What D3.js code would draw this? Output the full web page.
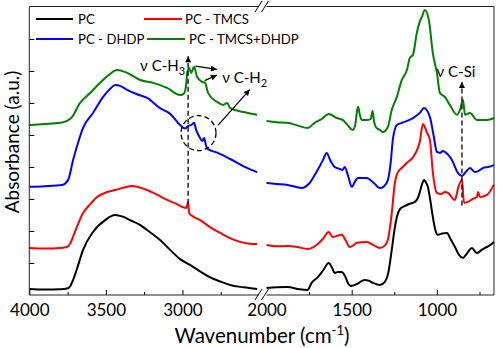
<!DOCTYPE html>
<html>
<head>
<meta charset="utf-8">
<script src="https://cdn.jsdelivr.net/npm/d3@7"></script>
<style>
html,body{margin:0;padding:0;background:#fff;}
svg{display:block;font-family:Lato, "Open Sans", sans-serif;}
</style>
</head>
<body>
<svg id="chart" width="498" height="348"></svg>
<script>
// ---- data: [wavenumber (cm-1), absorbance (a.u., offset)] ----
const seriesNames = ["PC", "PC - TMCS", "PC - DHDP", "PC - TMCS+DHDP"];
const seriesColors = ["#000000", "#ff0000", "#0000ff", "#008000"];

const pcLeft = [[4000,0.19],[3900,0.17],[3800,0.18],[3754,0.2],[3730,0.3],[3714,0.47],[3680,0.95],[3649,1.41],[3584,1.97],[3505,2.34],[3440,2.5],[3390,2.45],[3342,2.34],[3280,2.2],[3231,2.03],[3146,1.72],[3080,1.41],[3015,1.12],[2950,0.94],[2880,0.72],[2819,0.55],[2750,0.42],[2688,0.31],[2600,0.24],[2512,0.19]];
const tmcsLeft = [[4000,1.47],[3900,1.45],[3800,1.47],[3754,1.5],[3734,1.6],[3700,2.0],[3649,2.56],[3600,2.85],[3557,3.06],[3492,3.22],[3440,3.28],[3380,3.36],[3329,3.41],[3280,3.36],[3231,3.28],[3160,3.12],[3100,2.97],[3040,2.85],[3000,2.75],[2975,2.72],[2963,2.9],[2955,2.55],[2930,2.45],[2884,2.34],[2820,2.12],[2753,1.94],[2690,1.78],[2623,1.66],[2560,1.6],[2512,1.59]];
const dhdpLeft = [[4000,3.38],[3900,3.4],[3786,3.44],[3747,3.59],[3714,4.22],[3682,4.75],[3649,5.22],[3584,5.69],[3518,6.19],[3470,6.45],[3440,6.56],[3400,6.52],[3361,6.41],[3300,6.28],[3231,6.16],[3146,5.84],[3080,5.66],[3015,5.31],[2982,5.2],[2963,5.28],[2940,5.32],[2924,5.38],[2910,5.15],[2890,4.95],[2871,4.81],[2858,4.91],[2845,4.65],[2830,4.55],[2773,4.45],[2688,4.25],[2603,4.03],[2512,3.84]];
const bothLeft = [[4000,5.31],[3900,5.34],[3800,5.38],[3754,5.44],[3721,5.56],[3669,6.0],[3603,6.31],[3538,6.63],[3480,6.88],[3427,7.03],[3361,6.94],[3276,6.72],[3191,6.63],[3100,6.47],[3015,6.25],[2990,6.3],[2975,6.6],[2969,6.94],[2956,7.09],[2943,6.94],[2924,7.13],[2904,6.81],[2871,6.66],[2852,6.63],[2832,6.31],[2773,6.03],[2734,5.94],[2708,6.0],[2688,5.84],[2603,5.72],[2512,5.63]];

const pcRight = [[2000,0.22],[1940,0.24],[1876,0.25],[1806,0.18],[1759,0.16],[1735,0.38],[1700,0.55],[1670,0.75],[1635,1.0],[1615,0.85],[1600,0.69],[1580,0.72],[1559,0.72],[1540,0.6],[1520,0.35],[1506,0.28],[1490,0.3],[1471,0.34],[1440,0.44],[1424,0.47],[1400,0.45],[1376,0.38],[1350,0.33],[1335,0.31],[1306,0.41],[1285,0.7],[1265,1.41],[1250,2.0],[1235,2.44],[1215,2.7],[1200,2.75],[1160,2.85],[1129,2.91],[1110,3.05],[1100,3.22],[1085,3.5],[1076,3.59],[1065,3.52],[1053,3.38],[1040,3.0],[1024,2.44],[1010,2.05],[994,1.88],[970,1.92],[941,1.94],[920,1.75],[894,1.5],[870,1.25],[847,1.16],[830,1.25],[810,1.4],[794,1.47],[775,1.35],[765,1.31],[740,1.4],[718,1.47],[690,1.55],[665,1.66]];
const tmcsRight = [[2000,1.56],[1940,1.52],[1876,1.53],[1820,1.5],[1759,1.44],[1730,1.48],[1706,1.56],[1670,1.75],[1635,1.97],[1612,1.81],[1585,1.85],[1559,1.88],[1535,1.7],[1512,1.5],[1490,1.55],[1471,1.63],[1412,1.66],[1370,1.55],[1335,1.47],[1305,1.55],[1288,1.72],[1265,2.56],[1247,3.5],[1229,3.84],[1200,4.0],[1176,4.13],[1141,4.3],[1115,4.55],[1100,4.8],[1082,5.34],[1060,5.1],[1041,4.84],[1024,3.84],[1000,3.19],[975,3.15],[953,3.22],[935,3.19],[894,2.97],[876,3.34],[853,3.59],[841,2.88],[818,2.91],[790,3.0],[765,3.06],[759,3.22],[747,3.06],[706,3.13],[665,3.45]];
const dhdpRight = [[2000,3.5],[1940,3.47],[1876,3.44],[1830,3.38],[1794,3.34],[1747,3.5],[1700,3.91],[1670,4.2],[1647,4.44],[1625,4.2],[1600,4.0],[1575,3.95],[1553,3.91],[1541,4.0],[1520,3.7],[1500,3.38],[1480,3.55],[1465,3.66],[1412,3.66],[1370,3.5],[1335,3.34],[1310,3.4],[1288,3.59],[1270,4.2],[1259,4.84],[1235,5.31],[1206,5.38],[1170,5.45],[1141,5.53],[1100,5.69],[1076,5.84],[1041,5.56],[1020,5.0],[1000,4.47],[982,4.44],[965,4.5],[953,4.47],[912,4.22],[876,3.81],[853,3.72],[830,3.85],[806,3.97],[776,3.84],[750,3.9],[729,3.97],[700,4.0],[665,4.06]];
const bothRight = [[2000,5.44],[1940,5.4],[1876,5.38],[1820,5.3],[1759,5.22],[1718,5.38],[1676,5.5],[1635,5.66],[1588,5.53],[1553,5.47],[1529,5.34],[1494,5.16],[1480,5.3],[1470,5.7],[1462,5.88],[1452,5.62],[1440,5.47],[1406,5.47],[1388,5.5],[1378,5.75],[1368,5.4],[1355,5.22],[1335,5.16],[1318,5.09],[1288,5.25],[1265,5.78],[1235,6.19],[1206,6.72],[1176,7.03],[1159,7.41],[1141,7.5],[1118,8.19],[1100,8.55],[1088,8.69],[1071,8.91],[1047,8.59],[1024,7.56],[1000,6.94],[982,6.31],[953,6.19],[924,5.94],[882,5.63],[865,5.78],[847,6.09],[835,5.63],[806,5.69],[765,5.47],[706,5.47],[665,5.53]];

const leftSeries = [pcLeft, tmcsLeft, dhdpLeft, bothLeft];
const rightSeries = [pcRight, tmcsRight, dhdpRight, bothRight];

const majorTicksLeft = [4000, 3500, 3000];
const minorTicksLeft = [3750, 3250, 2750];
const majorTicksRight = [2000, 1500, 1000];
const minorTicksRight = [1750, 1250, 750];
const yTicks = [1, 2, 3, 4, 5, 6, 7, 8];

// ---- layout ----
const svg = d3.select("#chart");
const L = 29.3, R = 494, T = 6.5, B = 295;
const brkL = 259, brkR = 266.5;
const xL = d3.scaleLinear().domain([4000, 2500]).range([L, brkL]);
const xR = d3.scaleLinear().domain([2000, 665]).range([brkR, R]);
const y = d3.scaleLinear().domain([0, 9]).range([B, 7]);

// arrow marker
const defs = svg.append("defs");
defs.append("marker").attr("id", "arr").attr("viewBox", "0 0 10 10")
  .attr("refX", 10).attr("refY", 5).attr("markerWidth", 7).attr("markerHeight", 6)
  .attr("markerUnits", "userSpaceOnUse").attr("orient", "auto")
  .append("path").attr("d", "M0,0 L10,5 L0,10 z").attr("fill", "#000");

// curves
const lineL = d3.line().x(d => xL(d[0])).y(d => y(d[1])).curve(d3.curveMonotoneX);
const lineR = d3.line().x(d => xR(d[0])).y(d => y(d[1])).curve(d3.curveMonotoneX);
const gCurves = svg.append("g");
leftSeries.forEach((s, i) => {
  gCurves.append("path").attr("d", lineL(s)).attr("fill", "none")
    .attr("stroke", seriesColors[i]).attr("stroke-width", 2).attr("stroke-linejoin", "round");
});
rightSeries.forEach((s, i) => {
  gCurves.append("path").attr("d", lineR(s)).attr("fill", "none")
    .attr("stroke", seriesColors[i]).attr("stroke-width", 2).attr("stroke-linejoin", "round");
});

// axes (ticks inward)
const fontAxis = 17;
function styleAxis(g) {
  g.select(".domain").remove();
  g.selectAll("line").attr("stroke", "#000");
  g.selectAll("text").attr("font-size", fontAxis).attr("font-family", "Lato").attr("fill", "#000");
}
svg.append("g").attr("transform", `translate(0,${B})`)
  .call(d3.axisBottom(xL).tickValues(majorTicksLeft).tickSize(-5).tickPadding(9).tickFormat(d3.format("d")))
  .call(styleAxis);
svg.append("g").attr("transform", `translate(0,${B})`)
  .call(d3.axisBottom(xL).tickValues(minorTicksLeft).tickSize(-3).tickFormat(""))
  .call(styleAxis);
svg.append("g").attr("transform", `translate(0,${B})`)
  .call(d3.axisBottom(xR).tickValues(majorTicksRight).tickSize(-5).tickPadding(9).tickFormat(d3.format("d")))
  .call(styleAxis)
  .call(g => g.selectAll(".tick").filter(d => d === 2000).select("line").remove());
svg.append("g").attr("transform", `translate(0,${B})`)
  .call(d3.axisBottom(xR).tickValues(minorTicksRight).tickSize(-3).tickFormat(""))
  .call(styleAxis);
svg.append("g").attr("transform", `translate(${L},0)`)
  .call(d3.axisLeft(y).tickValues(yTicks).tickSize(-5).tickFormat(""))
  .call(styleAxis);

// frame with break
const frame = svg.append("g").attr("stroke", "#222").attr("stroke-width", 1).attr("fill", "none");
[[L, B, brkL, B], [brkR, B, R, B], [L, T, brkL, T], [brkR, T, R, T], [L, T, L, B], [R, T, R, B]]
  .forEach(s => frame.append("line").attr("x1", s[0]).attr("y1", s[1]).attr("x2", s[2]).attr("y2", s[3]));
const slashes = [[255, B + 5, 262, B - 6], [261.5, B + 5, 268.5, B - 6], [255, T + 5.5, 262, T - 5.5], [261.5, T + 5.5, 268.5, T - 5.5]];
slashes.forEach(s => svg.append("line").attr("x1", s[0]).attr("y1", s[1]).attr("x2", s[2]).attr("y2", s[3])
  .attr("stroke", "#000").attr("stroke-width", 1));

// axis titles
svg.append("text").attr("x", 262).attr("y", 343).attr("text-anchor", "middle")
  .attr("font-size", 20.5).attr("font-family", "Lato").attr("fill", "#000")
  .call(t => {
    t.append("tspan").text("Wavenumber (cm");
    t.append("tspan").attr("font-size", 13).attr("dy", -8).text("-1");
    t.append("tspan").attr("dy", 8).text(")");
  });
svg.append("text").attr("transform", "translate(19,142) rotate(-90)").attr("text-anchor", "middle")
  .attr("font-size", 19).attr("font-family", "Lato").attr("fill", "#000").text("Absorbance (a.u.)");

// legend
const legendPos = [[36, 19, 73, 78], [144, 19, 182, 185], [36, 39, 73, 78], [147, 39, 185, 189]];
seriesNames.forEach((n, i) => {
  const p = legendPos[i];
  svg.append("line").attr("x1", p[0]).attr("x2", p[2]).attr("y1", p[1]).attr("y2", p[1])
    .attr("stroke", seriesColors[i]).attr("stroke-width", 2);
  svg.append("text").attr("x", p[3]).attr("y", p[1] + 5).attr("font-size", 13.2)
    .attr("font-family", "Lato").attr("fill", "#000").text(n);
});

// annotations
const ann = svg.append("g").attr("stroke", "#000").attr("fill", "none").attr("stroke-width", 1.3);
ann.append("line").attr("x1", xL(2963)).attr("y1", y(2.85)).attr("x2", xL(2963)).attr("y2", y(7.46))
  .attr("stroke-dasharray", "5,3").attr("marker-end", "url(#arr)");
ann.append("line").attr("x1", xL(2915)).attr("y1", y(7.15)).attr("x2", xL(2775)).attr("y2", y(7.05))
  .attr("marker-end", "url(#arr)");
ann.append("line").attr("x1", xL(2855)).attr("y1", y(6.7)).attr("x2", xL(2775)).attr("y2", y(6.87))
  .attr("marker-end", "url(#arr)");
ann.append("ellipse").attr("cx", xL(2895)).attr("cy", y(5.06)).attr("rx", 17.5).attr("ry", 17.5)
  .attr("stroke-dasharray", "5,3");
ann.append("line").attr("x1", xL(2767)).attr("y1", y(5.31)).attr("x2", xL(2560)).attr("y2", y(6.42))
  .attr("marker-end", "url(#arr)");
ann.append("line").attr("x1", xR(853)).attr("y1", y(2.8)).attr("x2", xR(853)).attr("y2", y(6.66))
  .attr("stroke-dasharray", "5,3").attr("marker-end", "url(#arr)");

function label(x, yy, anchor, main, sub) {
  const t = svg.append("text").attr("x", x).attr("y", yy).attr("text-anchor", anchor)
    .attr("font-size", 15).attr("font-family", "Lato").attr("fill", "#000");
  t.append("tspan").text(main);
  if (sub) t.append("tspan").attr("font-size", 11).attr("dy", 4).text(sub);
}
label(xL(2963) - 3, y(7.0), "end", "\u03bd C-H", "3");
label(xL(2740), y(6.62), "start", "\u03bd C-H", "2");
label(xR(853) - 6, y(6.81), "middle", "\u03bd C-Si", null);
</script>
</body>
</html>
